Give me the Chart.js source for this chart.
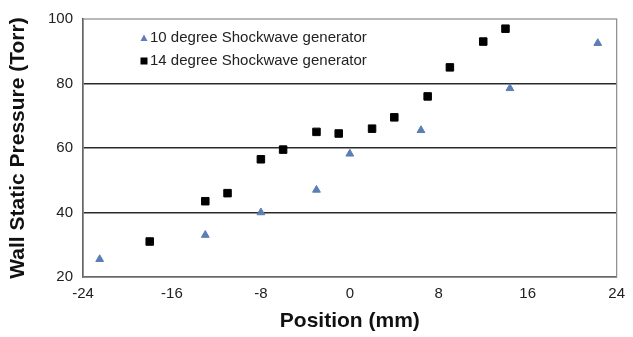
<!DOCTYPE html>
<html>
<head>
<meta charset="utf-8">
<script src="https://cdn.jsdelivr.net/npm/chart.js@4"></script>
<style>
  html, body { margin: 0; padding: 0; background: #fff; }
  #wrap { width: 633px; height: 337px; }
</style>
</head>
<body>
<div id="wrap"><canvas id="pressureChart"></canvas></div>
<script>
// data
const tenDegX = [-22.5, -13, -8, -3, 0, 6.4, 14.4, 22.3];
const tenDegY = [25.5, 33, 40, 47, 58.2, 65.5, 78.5, 92.5];

const fourteenDegX = [-18, -13, -11, -8, -6, -3, -1, 2, 4, 7, 9, 12, 14];
const fourteenDegY = [31, 43.5, 46, 56.5, 59.5, 65, 64.5, 66, 69.5, 76, 85, 93, 97];

const seriesNames = ["10 degree Shockwave generator", "14 degree Shockwave generator"];
const xTicks = [-24, -16, -8, 0, 8, 16, 24];
const yTicks = [20, 40, 60, 80, 100];

const fontFam = "'Liberation Sans', Arial, sans-serif";

function toPoints(xs, ys){
    let pts = [];
    for(let i = 0; i < xs.length; i++){
        pts.push({x: xs[i], y: ys[i]});
    }
    return pts;
}

// grey frame round the plot area
const frame = {
    id: "frame",
    beforeDatasetsDraw(chart){
        const a = chart.chartArea;
        const ctx = chart.ctx;
        ctx.save();
        ctx.strokeStyle = "#8a8a8a";
        ctx.lineWidth = 1.2;
        ctx.strokeRect(a.left, a.top, a.right - a.left, a.bottom - a.top);
        ctx.restore();
    }
};

// legend sits inside the plot, top left
const innerLegend = {
    id: "innerLegend",
    afterDraw(chart){
        const ctx = chart.ctx;
        const rows = [38, 61];
        ctx.save();
        ctx.font = "15px " + fontFam;
        ctx.textBaseline = "middle";
        chart.data.datasets.forEach(function(ds, i){
            const y = rows[i];
            const mx = 144;
            ctx.fillStyle = ds.backgroundColor;
            if(ds.pointStyle === "triangle"){
                ctx.beginPath();
                ctx.moveTo(mx, y - 3.5);
                ctx.lineTo(mx + 3.5, y + 3);
                ctx.lineTo(mx - 3.5, y + 3);
                ctx.closePath();
                ctx.fill();
            } else {
                ctx.fillRect(mx - 3.5, y - 3.5, 7, 7);
            }
            ctx.fillStyle = "#222";
            ctx.fillText(ds.label, 150, y);
        });
        ctx.restore();
    }
};

new Chart("pressureChart", {
    type: "scatter",
    data: {
        datasets: [{
            label: seriesNames[0],
            data: toPoints(tenDegX, tenDegY),
            pointStyle: "triangle",
            backgroundColor: "#5b7fb5",
            borderColor: "#5b7fb5",
            pointRadius: 4.5,
            pointHoverRadius: 4.5
        }, {
            label: seriesNames[1],
            data: toPoints(fourteenDegX, fourteenDegY),
            pointStyle: "rect",
            backgroundColor: "#000000",
            borderColor: "#000000",
            pointRadius: 5.3,
            pointHoverRadius: 5.3
        }]
    },
    options: {
        responsive: true,
        maintainAspectRatio: false,
        animation: false,
        layout: {padding: {top: 17, right: 10, left: 0, bottom: 0}},
        plugins: {
            legend: {display: false},
            tooltip: {enabled: false}
        },
        scales: {
            x: {
                type: "linear",
                min: -24,
                max: 24,
                afterBuildTicks: function(scale){
                    scale.ticks = xTicks.map(function(v){ return {value: v}; });
                },
                afterFit: function(scale){ scale.height = 60; },
                grid: {display: false, drawTicks: false},
                border: {display: true, color: "#333", width: 1.5},
                ticks: {
                    padding: 8,
                    color: "#222",
                    font: {family: fontFam, size: 15}
                },
                title: {
                    display: true,
                    text: "Position (mm)",
                    color: "#111",
                    padding: {top: 0, bottom: 3},
                    font: {family: fontFam, size: 21, weight: "bold"}
                }
            },
            y: {
                type: "linear",
                min: 20,
                max: 100,
                afterBuildTicks: function(scale){
                    scale.ticks = yTicks.map(function(v){ return {value: v}; });
                },
                afterFit: function(scale){ scale.width = 83; },
                grid: {
                    drawTicks: false,
                    lineWidth: 1.5,
                    color: function(c){
                        if(c.tick && (c.tick.value === 20 || c.tick.value === 100)) return "rgba(0,0,0,0)";
                        return "#2a2a2a";
                    }
                },
                border: {display: true, color: "#333", width: 1.5},
                ticks: {
                    padding: 10,
                    color: "#222",
                    font: {family: fontFam, size: 15}
                },
                title: {
                    display: true,
                    text: "Wall Static Pressure (Torr)",
                    color: "#111",
                    padding: {top: 6, bottom: 0},
                    font: {family: fontFam, size: 21, weight: "bold"}
                }
            }
        }
    },
    plugins: [frame, innerLegend]
});
</script>
</body>
</html>
